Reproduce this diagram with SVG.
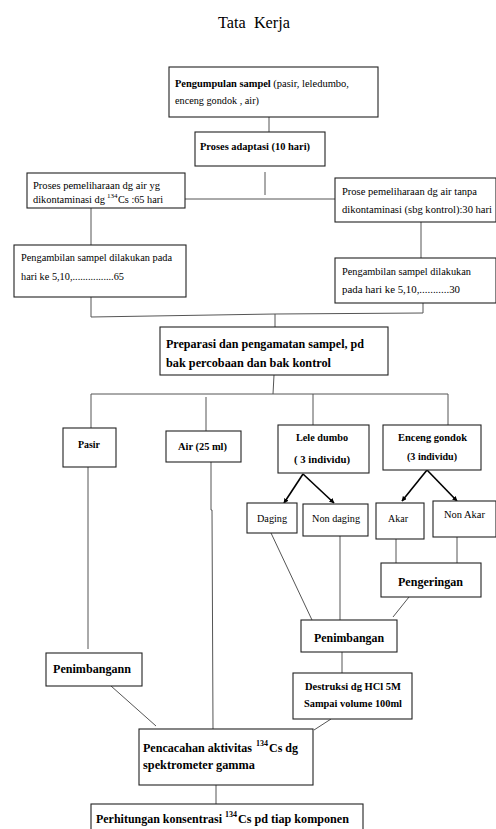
<svg xmlns="http://www.w3.org/2000/svg" width="496" height="829" viewBox="0 0 496 829">
<defs>
<marker id="ah" viewBox="0 0 10 10" refX="9" refY="5" markerWidth="5" markerHeight="5" orient="auto" markerUnits="userSpaceOnUse">
<path d="M0,0 L10,5 L0,10 z" fill="#000"/>
</marker>
</defs>
<style>
text{font-family:"Liberation Serif","Times New Roman",serif;fill:#000;}
.r{font-size:10.6px;}
.b{font-size:10.5px;font-weight:bold;}
.bb{font-size:12px;font-weight:bold;}
.box{fill:#fff;stroke:#222;stroke-width:1.1;}
.ln{stroke:#555;stroke-width:1;fill:none;}
.ar{stroke:#000;stroke-width:1.6;fill:none;}
.sup{font-size:7px;}
.supb{font-size:8px;font-weight:bold;}
</style>
<rect width="496" height="829" fill="#fff"/>
<text x="218" y="28" style="font-size:16.5px" textLength="72" lengthAdjust="spacingAndGlyphs" xml:space="preserve">Tata  Kerja</text>

<g id="connectors">
<line class="ln" x1="269" y1="117" x2="269" y2="132"/>
<line class="ln" x1="265" y1="172" x2="265" y2="195"/>
<line class="ln" x1="185" y1="199" x2="335" y2="199"/>
<line class="ln" x1="91" y1="208" x2="91" y2="245"/>
<line class="ln" x1="421" y1="222" x2="421" y2="258"/>
<polyline class="ln" points="91,297 91,317 275,314 423,313 423,303"/>
<line class="ln" x1="275" y1="314" x2="275" y2="327"/>
<line class="ln" x1="274" y1="375" x2="273" y2="394"/>
<line class="ln" x1="91" y1="394" x2="448" y2="394"/>
<line class="ln" x1="91" y1="394" x2="91" y2="428"/>
<line class="ln" x1="206" y1="397" x2="206" y2="431"/>
<line class="ln" x1="313" y1="394" x2="313" y2="425"/>
<line class="ln" x1="448" y1="394" x2="448" y2="425"/>
<line class="ln" x1="88" y1="467" x2="88" y2="649"/>
<polyline class="ln" points="211,462 211,510 212,510 213,729"/>
<line class="ar" x1="303" y1="474" x2="284" y2="503" marker-end="url(#ah)"/>
<line class="ar" x1="303" y1="474" x2="334" y2="503" marker-end="url(#ah)"/>
<line class="ar" x1="427" y1="470" x2="402" y2="501" marker-end="url(#ah)"/>
<line class="ar" x1="427" y1="470" x2="457" y2="501" marker-end="url(#ah)"/>
<line class="ln" x1="271" y1="533" x2="312" y2="620"/>
<line class="ln" x1="340" y1="536" x2="340" y2="620"/>
<line class="ln" x1="396" y1="539" x2="396" y2="563"/>
<line class="ln" x1="457" y1="537" x2="457" y2="563"/>
<line class="ln" x1="409" y1="597" x2="393" y2="617"/>
<line class="ln" x1="342" y1="652" x2="342" y2="673"/>
<line class="ln" x1="111" y1="686" x2="156" y2="726"/>
<line class="ln" x1="331" y1="719" x2="314" y2="730"/>
<line class="ln" x1="216" y1="785" x2="216" y2="804"/>
</g>

<g id="n1">
<rect class="box" x="169" y="67" width="209" height="50"/>
<text class="r" x="175" y="87" textLength="174" lengthAdjust="spacingAndGlyphs"><tspan style="font-weight:bold;font-size:10.5px">Pengumpulan sampel</tspan> (pasir, leledumbo,</text>
<text class="r" x="175" y="104" textLength="84" lengthAdjust="spacingAndGlyphs">enceng gondok , air)</text>
</g>
<g id="n2">
<rect class="box" x="195" y="132" width="130" height="34"/>
<text class="b" x="200" y="150" textLength="110" lengthAdjust="spacingAndGlyphs">Proses adaptasi (10 hari)</text>
</g>
<g id="n3">
<rect class="box" x="27" y="173" width="158" height="35"/>
<text class="r" x="33" y="189" textLength="127" lengthAdjust="spacingAndGlyphs">Proses pemeliharaan dg air yg</text>
<text class="r" x="33" y="203" textLength="72" lengthAdjust="spacingAndGlyphs">dikontaminasi dg</text>
<text class="sup" x="107" y="198">134</text>
<text class="r" x="118" y="203" textLength="45" lengthAdjust="spacingAndGlyphs">Cs :65 hari</text>
</g>
<g id="n4">
<rect class="box" x="335" y="178" width="161" height="44"/>
<text class="r" x="342" y="195" textLength="135" lengthAdjust="spacingAndGlyphs">Prose pemeliharaan dg air tanpa</text>
<text class="r" x="342" y="213" textLength="150" lengthAdjust="spacingAndGlyphs">dikontaminasi (sbg kontrol):30 hari</text>
</g>
<g id="n5">
<rect class="box" x="14" y="245" width="172" height="52"/>
<text class="r" x="21" y="261" textLength="151" lengthAdjust="spacingAndGlyphs">Pengambilan sampel dilakukan pada</text>
<text class="r" x="21" y="280" textLength="103" lengthAdjust="spacingAndGlyphs">hari ke 5,10,................65</text>
</g>
<g id="n6">
<rect class="box" x="335" y="258" width="161" height="45"/>
<text class="r" x="342" y="275" textLength="129" lengthAdjust="spacingAndGlyphs">Pengambilan sampel dilakukan</text>
<text class="r" x="342" y="293" textLength="118" lengthAdjust="spacingAndGlyphs">pada hari ke 5,10,...........30</text>
</g>
<g id="n7">
<rect class="box" x="160" y="327" width="228" height="48"/>
<text class="bb" x="166" y="348" textLength="198" lengthAdjust="spacingAndGlyphs">Preparasi dan pengamatan sampel, pd</text>
<text class="bb" x="166" y="367" textLength="165" lengthAdjust="spacingAndGlyphs">bak percobaan dan bak kontrol</text>
</g>
<g id="n8">
<rect class="box" x="63" y="428" width="53" height="39"/>
<text class="b" x="78" y="448" textLength="22" lengthAdjust="spacingAndGlyphs">Pasir</text>
</g>
<g id="n9">
<rect class="box" x="166" y="431" width="75" height="31"/>
<text class="b" x="178" y="450" textLength="49" lengthAdjust="spacingAndGlyphs">Air (25 ml)</text>
</g>
<g id="n10">
<rect class="box" x="278" y="425" width="91" height="48"/>
<text class="b" x="296" y="441" textLength="52" lengthAdjust="spacingAndGlyphs">Lele dumbo</text>
<text class="b" x="294" y="463" textLength="56" lengthAdjust="spacingAndGlyphs">( 3 individu)</text>
</g>
<g id="n11">
<rect class="box" x="383" y="425" width="98" height="45"/>
<text class="b" x="398" y="441" textLength="69" lengthAdjust="spacingAndGlyphs">Enceng gondok</text>
<text class="b" x="407" y="460" textLength="50" lengthAdjust="spacingAndGlyphs">(3 individu)</text>
</g>
<g id="n12">
<rect class="box" x="247" y="503" width="50" height="30"/>
<text class="r" x="257" y="522" textLength="30" lengthAdjust="spacingAndGlyphs">Daging</text>
</g>
<g id="n13">
<rect class="box" x="303" y="504" width="65" height="32"/>
<text class="r" x="312" y="522" textLength="48" lengthAdjust="spacingAndGlyphs">Non daging</text>
</g>
<g id="n14">
<rect class="box" x="376" y="503" width="48" height="36"/>
<text class="r" x="388" y="522" textLength="20" lengthAdjust="spacingAndGlyphs">Akar</text>
</g>
<g id="n15">
<rect class="box" x="433" y="501" width="63" height="36"/>
<text class="r" x="444" y="518" textLength="41" lengthAdjust="spacingAndGlyphs">Non Akar</text>
</g>
<g id="n16">
<rect class="box" x="381" y="563" width="100" height="34"/>
<text class="bb" x="398" y="586" textLength="65" lengthAdjust="spacingAndGlyphs">Pengeringan</text>
</g>
<g id="n17">
<rect class="box" x="301" y="620" width="96" height="32"/>
<text class="bb" x="314" y="642" textLength="70" lengthAdjust="spacingAndGlyphs">Penimbangan</text>
</g>
<g id="n18">
<rect class="box" x="46" y="653" width="96" height="33"/>
<text class="bb" x="53" y="673" textLength="78" lengthAdjust="spacingAndGlyphs">Penimbangann</text>
</g>
<g id="n19">
<rect class="box" x="293" y="673" width="119" height="46"/>
<text class="b" x="305" y="690" textLength="96" lengthAdjust="spacingAndGlyphs">Destruksi dg HCl 5M</text>
<text class="b" x="304" y="707" textLength="98" lengthAdjust="spacingAndGlyphs">Sampai volume 100ml</text>
</g>
<g id="n20">
<rect class="box" x="139" y="729" width="174" height="56"/>
<text class="bb" x="143" y="752" textLength="109" lengthAdjust="spacingAndGlyphs">Pencacahan aktivitas</text>
<text class="supb" x="256" y="746">134</text>
<text class="bb" x="269" y="752" textLength="29" lengthAdjust="spacingAndGlyphs">Cs dg</text>
<text class="bb" x="143" y="769" textLength="112" lengthAdjust="spacingAndGlyphs">spektrometer gamma</text>
</g>
<g id="n21">
<rect class="box" x="91" y="804" width="272" height="40"/>
<text class="bb" x="96" y="823" textLength="126" lengthAdjust="spacingAndGlyphs">Perhitungan konsentrasi</text>
<text class="supb" x="225" y="817">134</text>
<text class="bb" x="238" y="823" textLength="111" lengthAdjust="spacingAndGlyphs">Cs pd tiap komponen</text>
</g>
</svg>
